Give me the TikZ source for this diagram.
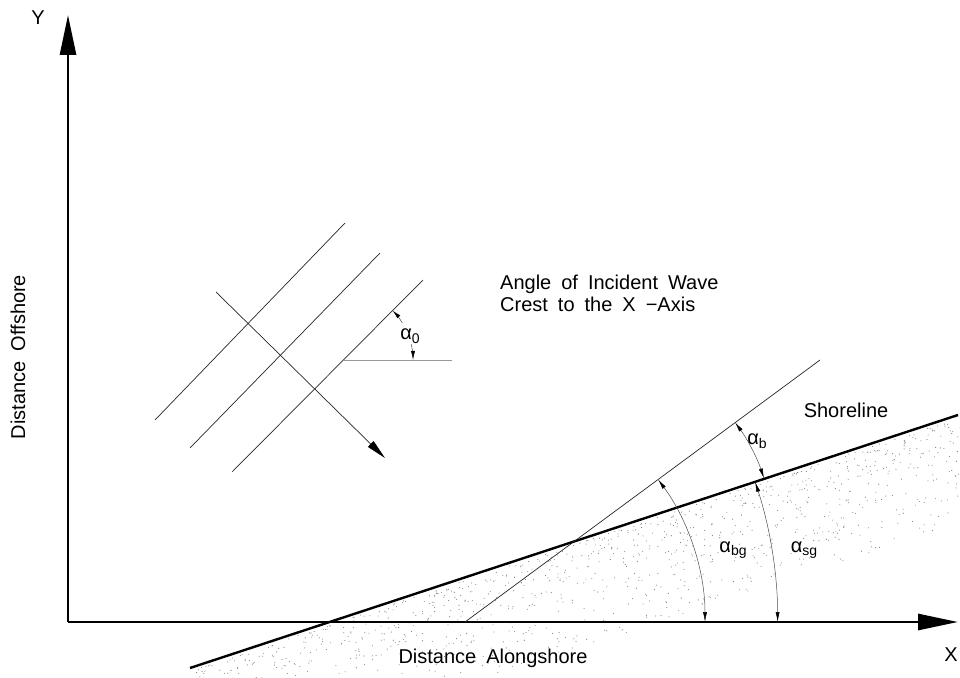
\documentclass[tikz,border=0pt]{standalone}
\usepackage{fontspec}
\setmainfont{Liberation Sans}
\usetikzlibrary{arrows.meta,calc}
\newcommand{\lowsub}[1]{\raisebox{-0.35ex}{\fontsize{14}{14}\selectfont #1}}
\newcommand{\widespace}{\spaceskip=0.5em plus 0.1em\relax}

\begin{document}
\begin{tikzpicture}[
  x=1pt,y=1pt,
  lbl/.style={font=\fontsize{20}{22}\selectfont\widespace,inner sep=0pt},
  axis/.style={line width=2.8pt,-{Triangle[length=40pt,width=16pt]}},
  shore/.style={line width=2.4pt},
  thin/.style={line width=0.7pt,black!85},
  wave/.style={line width=0.7pt,black!85,-{Triangle[length=20pt,width=8pt,color=black]}},
  angarrow/.style={line width=0.5pt,black!70,{Latex[length=10pt,width=4pt,color=black]}-{Latex[length=10pt,width=4pt,color=black]}},
  onearrow/.style={line width=0.5pt,black!70,-{Latex[length=9pt,width=4pt,color=black]}}
]
\useasboundingbox (0,0) rectangle (960,677);

% sand below the shoreline
\pgfmathsetseed{42}
\begin{scope}
\clip (0,0) rectangle (960,677);
\foreach \k in {1,...,1200}{
  \pgfmathsetmacro{\t}{rnd}
  \pgfmathsetmacro{\d}{3+100*rnd^1.6}
  \fill[black!50] ({190+768*\t+0.3129*\d},{9+253*\t-0.9498*\d}) circle (0.55);
}
\end{scope}

% axes
\coordinate (origin) at (68,55);
\coordinate (ytip) at (68,662);
\coordinate (xtip) at (958,55);
\draw[axis] (origin) -- (ytip);
\draw[axis] (origin) -- (xtip);
\node[lbl] (ylab) at (38,659) {Y};
\node[lbl] (xlab) at (951,22) {X};
\node[lbl,rotate=90] (offshore) at (18,320) {Distance Offshore};
\node[lbl] (alongshore) at (493,19) {Distance Alongshore};

% shoreline and breaker crest
\coordinate (shoreA) at (190,9);
\coordinate (shoreB) at (958,262);
\coordinate (shoreX) at (329.6,55);
\coordinate (crestA) at (465,55);
\coordinate (crestB) at (820,317);
\coordinate (cross) at (574,136);
\draw[shore] (shoreA) -- (shoreB);
\draw[thin] (crestA) -- (crestB);
\node[lbl] (shorelab) at (846,267) {Shoreline};

% angles at the shore
\draw[angarrow] ($(crestA)+(0:240)$) arc[start angle=0,end angle=36.4,radius=240];
\draw[angarrow] ($(shoreX)+(0:448)$) arc[start angle=0,end angle=18.23,radius=448];
\draw[angarrow] ($(cross)+(18.23:200)$) arc[start angle=18.23,end angle=36.4,radius=200];
\node[lbl] (abg) at (733,127) {α\lowsub{bg}};
\node[lbl] (asg) at (804,127) {α\lowsub{sg}};
\node[lbl] (ab) at (757,236) {α\lowsub{b}};

% offshore wave crests
\coordinate (w1a) at (155,257);
\coordinate (w1b) at (345,454);
\coordinate (w2a) at (190,229);
\coordinate (w2b) at (380,424);
\coordinate (w3a) at (232,205);
\coordinate (w3b) at (423,397);
\draw[thin] (w1a) -- (w1b);
\draw[thin] (w2a) -- (w2b);
\draw[thin] (w3a) -- (w3b);
\coordinate (dirA) at (216,385);
\coordinate (dirB) at (385,219);
\draw[wave] (dirA) -- (dirB);

% deep water angle
\coordinate (horA) at (343,317);
\coordinate (horB) at (452,317);
\draw[line width=0.5pt,black!40] (horA) -- (horB);
\draw[onearrow] ($(horA)+(32:70)$) arc[start angle=32,end angle=45,radius=70];
\draw[onearrow] ($(horA)+(13:70)$) arc[start angle=13,end angle=0,radius=70];
\node[lbl] (a0) at (410,341) {α\lowsub{0}};

\node[lbl,align=left,anchor=west] (title) at (500,384) {Angle of Incident Wave\\Crest to the X −Axis};
\end{tikzpicture}
\end{document}
